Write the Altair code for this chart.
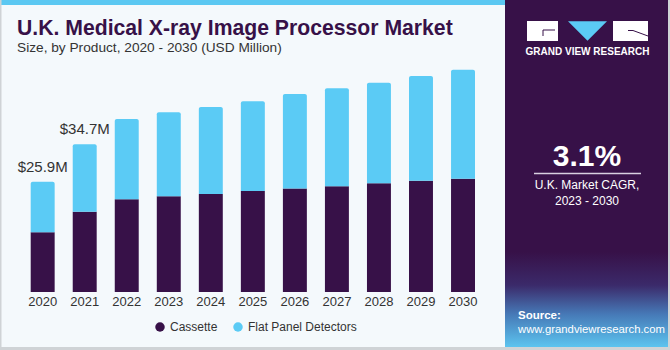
import altair as alt
import pandas as pd

years = ["2020", "2021", "2022", "2023", "2024", "2025", "2026", "2027", "2028", "2029", "2030"]
cassette = [14.0, 18.85, 21.8, 22.5, 23.0, 23.7, 24.3, 24.8, 25.5, 26.1, 26.6]
flat_panel = [11.9, 15.85, 18.8, 19.7, 20.4, 21.1, 22.2, 23.0, 23.6, 24.6, 25.6]
products = ["Cassette", "Flat Panel Detectors"]
colors = ["#371148", "#5bcbf5"]
label_years = ["2020", "2021"]
label_texts = ["$25.9M", "$34.7M"]

W, H = 670, 350
FONT = "Liberation Sans"

rows = []
for y, c, f in zip(years, cassette, flat_panel):
    rows.append({"year": y, "product": products[0], "lo": 0.0, "hi": c})
    rows.append({"year": y, "product": products[1], "lo": c, "hi": c + f})
bars_df = pd.DataFrame(rows)
tot = {y: c + f for y, c, f in zip(years, cassette, flat_panel)}
lab_df = pd.DataFrame({"year": label_years, "text": label_texts,
                       "total": [tot[y] for y in label_years]})
yr_df = pd.DataFrame({"year": years})

xs = alt.Scale(domain=years, range=[30.7, 475], paddingInner=0.43, paddingOuter=0)
ys = alt.Scale(domain=[0, 60], range=[292, 292 - 60 * 4.26])
cs = alt.Scale(domain=products, range=colors)

base = alt.Chart(bars_df)

def one(k):
    return pd.DataFrame({"k": [k]})

def rect(k, x, x2, y, y2, color):
    return alt.Chart(one(k)).mark_rect(fill=color, opacity=1).encode(
        x=alt.value(x), x2=alt.value(x2), y=alt.value(y), y2=alt.value(y2))

def txt(s, x, y, size, color, bold=False, align="center", font=FONT):
    return alt.Chart(pd.DataFrame({"t": [s]})).mark_text(
        font=font, fontSize=size, color=color, fontWeight="bold" if bold else "normal",
        align=align, baseline="middle").encode(
        text="t:N", x=alt.value(x), y=alt.value(y))

def rule(k, x, x2, y, y2, color, w=1):
    return alt.Chart(one(k)).mark_rule(stroke=color, strokeWidth=w, opacity=1,
                                       strokeCap="butt").encode(
        x=alt.value(x), x2=alt.value(x2), y=alt.value(y), y2=alt.value(y2))

legend = alt.Legend(title=None, orient="none", legendX=154, legendY=321, direction="horizontal",
                    symbolType="circle", symbolSize=90, labelFont=FONT, labelFontSize=12,
                    labelColor="#333333", columnPadding=14, symbolStrokeWidth=0)

cass_layer = base.transform_filter(alt.datum.product == products[0]).mark_bar().encode(
    x=alt.X("year:N", scale=xs, axis=None),
    y=alt.Y("hi:Q", scale=ys, axis=None),
    y2="lo:Q",
    color=alt.Color("product:N", scale=cs, legend=legend),
)
fpd_layer = base.transform_filter(alt.datum.product == products[1]).mark_bar(
    cornerRadiusTopLeft=2, cornerRadiusTopRight=2).encode(
    x=alt.X("year:N", scale=xs, axis=None),
    y=alt.Y("hi:Q", scale=ys, axis=None),
    y2="lo:Q",
    color=alt.Color("product:N", scale=cs, legend=legend),
)

val_labels = alt.Chart(lab_df).mark_text(font=FONT, fontSize=15, color="#333333",
                                         baseline="middle", dy=-15).encode(
    x=alt.X("year:N", scale=xs, axis=None),
    y=alt.Y("total:Q", scale=ys, axis=None),
    text="text:N")

year_labels = alt.Chart(yr_df).mark_text(font=FONT, fontSize=13, color="#333333",
                                         baseline="middle").encode(
    x=alt.X("year:N", scale=xs, axis=None),
    y=alt.value(302),
    text="year:N")

grad = alt.Gradient(gradient="linear", x1=0, x2=0, y1=0, y2=1, stops=[
    alt.GradientStop(offset=0, color="#371148"),
    alt.GradientStop(offset=0.35, color="#3b2a6a"),
    alt.GradientStop(offset=0.65, color="#4678b6"),
    alt.GradientStop(offset=1, color="#5cc4ef"),
])

tri = "M-1,-0.5L1,-0.5L0,0.5Z"

layers = [
    rect(1, 0, W, 0, H, "#f4f9fc"),
    rect(2, 0, 505, 0, 5, "#5bc8f2"),
    rect(3, 0, 1.5, 0, H, "#cfd3d6"),
    rect(4, 0, W, 347, H, "#cfd3d6"),
    rect(5, 505, 668, 0, 347, "#371148"),
    rect(6, 505, 668, 252, 347, grad),
    rect(7, 668, W, 0, H, "#cfd3d6"),
    # logo (white blocks drawn as thick rules)
    rule(10, 527, 558, 31, 31, "#ffffff", 20),
    rule(14, 613, 648, 31, 31, "#ffffff", 20),
    rule(11, 543, 555, 30, 30, "#371148", 1),
    rule(12, 543, 543, 30, 36, "#371148", 1),
    rule(15, 628, 633, 30.5, 30.5, "#371148", 1),
    rule(16, 633, 648, 30.5, 36, "#371148", 1),
    alt.Chart(one(13)).mark_point(shape=tri, filled=True, fill="#5bcbf5", opacity=1,
                                  size=1521, strokeWidth=0).encode(
        x=alt.value(587.5), y=alt.value(31)),
    txt("U.K. Medical X-ray Image Processor Market", 17, 29, 21.2, "#371148", bold=True, align="left"),
    txt("Size, by Product, 2020 - 2030 (USD Million)", 17, 48, 13.7, "#333333", align="left"),
    cass_layer, fpd_layer, val_labels, year_labels,
    txt("GRAND VIEW RESEARCH", 587.5, 51.5, 10, "#ffffff", bold=True),
    txt("3.1%", 587, 157, 30, "#ffffff", bold=True),
    rule(17, 534, 641, 173.5, 173.5, "#d8d0e0", 1.5),
    txt("U.K. Market CAGR,", 587, 185, 12, "#ffffff"),
    txt("2023 - 2030", 587, 201, 12, "#ffffff"),
    txt("Source:", 518, 316, 11.5, "#ffffff", bold=True, align="left"),
    txt("www.grandviewresearch.com", 518, 329.5, 11.3, "#ffffff", align="left"),
]

chart = alt.layer(*layers).properties(
    width=W, height=H, autosize=alt.AutoSizeParams(type="none"), padding=0
).configure_view(stroke=None).configure(background="#f4f9fc")

chart.save("out.html", embed_options={"renderer": "svg", "actions": False})
